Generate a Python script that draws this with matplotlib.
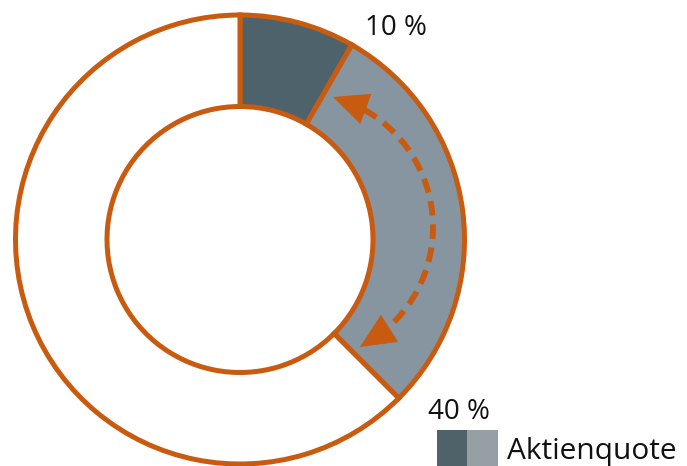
import matplotlib
matplotlib.use("Agg")
import numpy as np
import matplotlib.pyplot as plt
from matplotlib.patches import Arc, Rectangle

# data
shares = [8.3, 29.2, 62.5]          # dark segment, light segment, remainder (share of ring)
seg_colors = ["#4e626b", "#8795a0", "#ffffff"]
label_low = "10 %"
label_high = "40 %"
legend_label = "Aktienquote"
legend_colors = ["#4f6169", "#959fa4"]

orange = "#c85b10"
W, H = 687, 466
fig = plt.figure(figsize=(W / 100, H / 100), dpi=100)
ax = fig.add_axes([0, 0, 1, 1])

cx, cy = 240, H - 239.5
R_out, R_in = 224.5, 133
ax.pie(shares, colors=seg_colors, center=(cx, cy), radius=R_out,
       startangle=90, counterclock=False,
       wedgeprops=dict(width=R_out - R_in, edgecolor=orange, linewidth=3.6))

ax.set_xlim(0, W)
ax.set_ylim(0, H)
ax.set_aspect("equal")
ax.axis("off")

# dashed double-headed arrow along a circular arc through three guide points
A = np.array([333.0, H - 97.0])
B = np.array([433.0, H - 227.0])
Cp = np.array([360.0, H - 347.0])
ax_, ay_ = A; bx_, by_ = B; cx_, cy_ = Cp
dd = 2 * (ax_ * (by_ - cy_) + bx_ * (cy_ - ay_) + cx_ * (ay_ - by_))
ux = ((ax_**2 + ay_**2) * (by_ - cy_) + (bx_**2 + by_**2) * (cy_ - ay_) + (cx_**2 + cy_**2) * (ay_ - by_)) / dd
uy = ((ax_**2 + ay_**2) * (cx_ - bx_) + (bx_**2 + by_**2) * (ax_ - cx_) + (cx_**2 + cy_**2) * (bx_ - ax_)) / dd
O = np.array([ux, uy])
r = np.linalg.norm(A - O)
thA = np.degrees(np.arctan2(A[1] - O[1], A[0] - O[0]))
thC = np.degrees(np.arctan2(Cp[1] - O[1], Cp[0] - O[0]))
head = 24.0
dth = np.degrees(head / r)
ax.add_patch(Arc(tuple(O), 2 * r, 2 * r, theta1=thC + dth * 0.8, theta2=thA - dth * 0.8,
                 color=orange, linewidth=4.2, linestyle=(0, (2.5, 1.5)), capstyle="butt"))
for P, sgn in ((A, -1), (Cp, 1)):
    th0 = np.arctan2(P[1] - O[1], P[0] - O[0])
    th1 = th0 + sgn * head / r
    start = O + r * np.array([np.cos(th1), np.sin(th1)])
    ax.annotate("", xy=tuple(P), xytext=tuple(start),
                arrowprops=dict(arrowstyle="-|>,head_length=1.35,head_width=0.62",
                                mutation_scale=18, color=orange, lw=0.5,
                                shrinkA=0, shrinkB=0))

font = "Open Sans"
ax.text(365, H - 28, label_low, fontsize=20, family=font, va="center", ha="left", color="#111111")
ax.text(428, H - 412, label_high, fontsize=20, family=font, va="center", ha="left", color="#111111")

# legend
ax.add_patch(Rectangle((437, 0), 30, 36, facecolor=legend_colors[0], edgecolor="none"))
ax.add_patch(Rectangle((467, 0), 31, 36, facecolor=legend_colors[1], edgecolor="none"))
ax.text(507, H - 459, legend_label, fontsize=21.5, family=font, va="baseline", ha="left", color="#111111")

fig.savefig("out.png", dpi=100)
